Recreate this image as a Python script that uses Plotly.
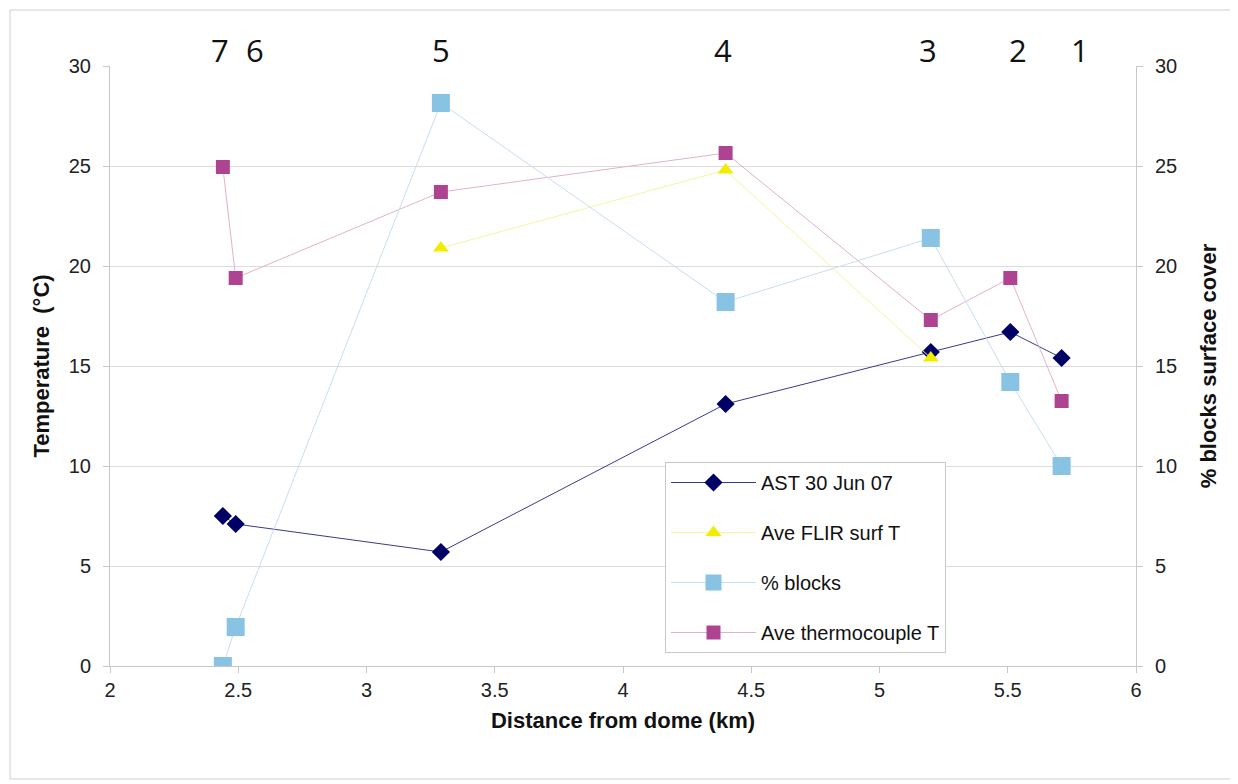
import plotly.graph_objects as go

# ---- data ----
ast_x = [2.44, 2.49, 3.29, 4.40, 5.20, 5.51, 5.71]
ast_y = [7.5, 7.1, 5.7, 13.1, 15.7, 16.7, 15.4]

flir_x = [3.29, 4.40, 5.20]
flir_y = [20.9, 24.8, 15.4]

blocks_x = [2.44, 2.49, 3.29, 4.40, 5.20, 5.51, 5.71]
blocks_y = [0.0, 1.95, 28.15, 18.2, 21.4, 14.2, 10.0]

thermo_x = [2.44, 2.49, 3.29, 4.40, 5.20, 5.51, 5.71]
thermo_y = [24.95, 19.4, 23.7, 25.65, 17.3, 19.4, 13.25]

site_labels = ["7", "6", "5", "4", "3", "2", "1"]
site_x = [2.43, 2.565, 3.29, 4.39, 5.19, 5.54, 5.78]

tick_vals = [0, 5, 10, 15, 20, 25, 30]
x_ticks = [2, 2.5, 3, 3.5, 4, 4.5, 5, 5.5, 6]

OFF = 8  # page body offset
W, H = 1238, 784
ml, mt = 110 - OFF, 66 - OFF
pw, ph = 1026, 600
mr, mb = W - ml - pw, H - mt - ph


def px(sx):
    return (sx - OFF - ml) / pw


def py(sy):
    return (mt + ph - (sy - OFF)) / ph


fig = go.Figure()

fig.add_trace(go.Scatter(
    x=ast_x, y=ast_y, name="AST 30 Jun 07", mode="lines+markers",
    line=dict(color="#3a3a8c", width=1),
    marker=dict(symbol="diamond", size=14, color="#000066"),
    legendgroup="a"))
fig.add_trace(go.Scatter(
    x=flir_x, y=flir_y, name="Ave FLIR surf T", mode="lines+markers",
    line=dict(color="#f5f5a0", width=1),
    marker=dict(symbol="triangle-up", size=14, color="#f2ec00"),
    legendgroup="b"))
fig.add_trace(go.Scatter(
    x=blocks_x, y=blocks_y, name="% blocks", mode="lines+markers",
    line=dict(color="#c6def0", width=1),
    marker=dict(symbol="square", size=18, color="#89c3e4"),
    yaxis="y2", legendgroup="c"))
fig.add_trace(go.Scatter(
    x=thermo_x, y=thermo_y, name="Ave thermocouple T", mode="lines+markers",
    line=dict(color="#e2b1cf", width=1),
    marker=dict(symbol="square", size=14, color="#ae4491"),
    legendgroup="d"))

for lab, xv in zip(site_labels, site_x):
    fig.add_annotation(x=xv, y=py(50), xref="x", yref="paper", text=lab,
                       showarrow=False, yanchor="middle", xanchor="center",
                       font=dict(family="Open Sans", size=31, color="#111111"))

# outer border
fig.add_shape(type="rect", xref="paper", yref="paper",
              x0=px(10), x1=px(1233), y0=py(779), y1=py(10),
              line=dict(color="#cfcfcf", width=1), layer="below")

axis_font = dict(family="Liberation Sans, Arial", size=20, color="#222222")

fig.update_layout(
    width=W, height=H,
    margin=dict(l=ml, r=mr, t=mt, b=mb),
    paper_bgcolor="white", plot_bgcolor="white",
    showlegend=True,
    legend=dict(x=px(665), y=py(462), xanchor="left", yanchor="top",
                bordercolor="#c8c8c8", borderwidth=1, bgcolor="white",
                font=dict(family="Liberation Sans, Arial", size=20, color="#111111"),
                tracegroupgap=21, itemwidth=85),
    xaxis=dict(range=[2, 6], tickvals=x_ticks, ticktext=[f"{v:g}" for v in x_ticks],
               showgrid=False, zeroline=False, showline=True, linecolor="#c8c8c8",
               ticks="outside", ticklen=6, tickcolor="#c8c8c8", tickfont=axis_font,
               title=dict(text="<b>Distance from dome (km)</b>",
                          font=dict(family="Liberation Sans, Arial", size=22, color="#111111"),
                          standoff=12)),
    yaxis=dict(range=[0, 30], tickvals=tick_vals, showgrid=True, gridcolor="#dcdcdc",
               zeroline=False, showline=True, linecolor="#c8c8c8",
               ticks="outside", ticklen=6, tickcolor="#c8c8c8", tickfont=axis_font,
               ticklabelstandoff=8,
               title=dict(text="<b>Temperature  (°C)</b>",
                          font=dict(family="Liberation Sans, Arial", size=22, color="#111111"),
                          standoff=13)),
    yaxis2=dict(range=[0, 30], tickvals=tick_vals, overlaying="y", side="right",
                showgrid=False, zeroline=False, showline=True, linecolor="#c8c8c8",
                ticks="outside", ticklen=6, tickcolor="#c8c8c8", tickfont=axis_font,
                ticklabelstandoff=8,
                title=dict(text="<b>% blocks surface cover</b>",
                           font=dict(family="Liberation Sans, Arial", size=22, color="#111111"),
                           standoff=24)),
)

fig.write_html("out.html")
